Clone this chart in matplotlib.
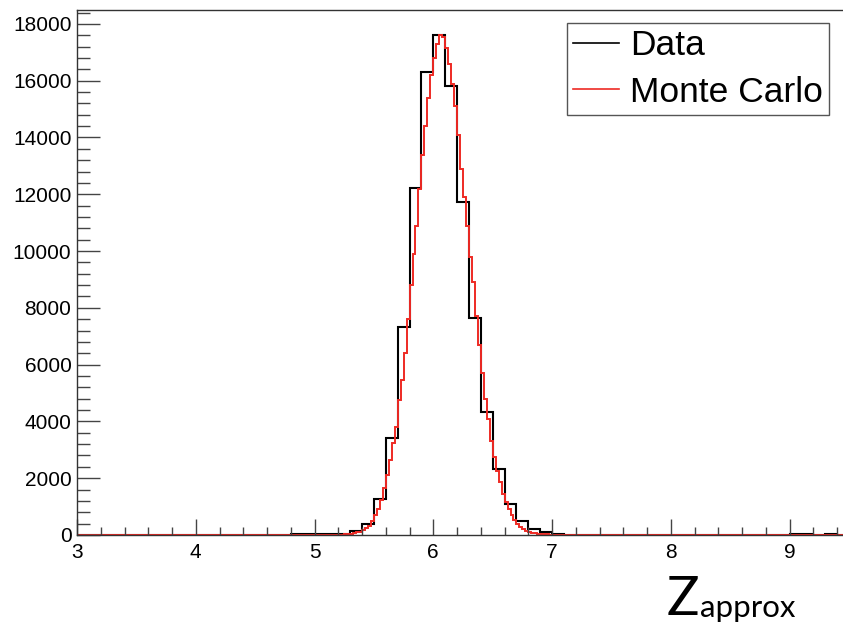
import numpy as np
import matplotlib
matplotlib.use("Agg")
import matplotlib.pyplot as plt
from matplotlib.lines import Line2D
from matplotlib.ticker import MultipleLocator

plt.rcParams['font.family'] = ['Liberation Sans', 'DejaVu Sans']

# ---------- histogram contents ----------
X_LO, X_HI = 3.0, 9.5   # right part of the frame is cut off in the original

# "Data": 0.1 wide bins, first bin starts at 4.8
data_width = 0.1
data_first_edge = 4.8
data_counts = ([20, 30, 30, 20, 40, 150, 400, 1280, 3430, 7340, 12230, 16300,
                17600, 15820, 11730, 7630, 4340, 2310, 1090, 500, 200, 110, 30]
               + [0] * 19
               + [50, 50, 0, 40])

# "Monte Carlo": 0.025 wide bins, first bin starts at 5.2
mc_width = 0.025
mc_first_edge = 5.2
mc_counts = [10, 15, 20, 30, 45, 70, 90, 120, 170, 230, 330, 480,
             700, 900, 1250, 1650, 2100, 2650, 3250, 3800, 4750, 5450, 6400, 7600,
             8800, 9900, 10900, 12200, 13400, 14400, 15400, 16200, 16800, 17300, 17600, 17550,
             17150, 16600, 15900, 15100, 14100, 12900, 11900, 10900, 9800, 8900, 7700, 6700,
             5700, 4800, 4100, 3300, 2750, 2250, 1850, 1450, 1150, 900, 700, 540,
             400, 290, 210, 150, 110, 80, 60, 45, 35, 25, 20, 15, 10]

labels = ["Data", "Monte Carlo"]
colors = ["black", "#ee2a24"]


def full_hist(first_edge, width, counts):
    # pad with empty bins so the histogram covers the whole x range (ROOT style)
    n_lo = int(round((first_edge - X_LO) / width))
    n_hi = int(round((X_HI - first_edge) / width)) - len(counts)
    vals = np.concatenate([np.zeros(n_lo), counts, np.zeros(max(n_hi, 0))])
    edges = X_LO + width * np.arange(len(vals) + 1)
    return edges, vals


W, H = 843, 626
fig = plt.figure(figsize=(W / 100, H / 100), dpi=100)
ax_left, ax_right, ax_top, ax_bottom = 77, 849, 10, 535
ax = fig.add_axes([ax_left / W, 1 - ax_bottom / H,
                   (ax_right - ax_left) / W, (ax_bottom - ax_top) / H])

e, v = full_hist(data_first_edge, data_width, data_counts)
ax.stairs(v, e, color=colors[0], lw=1.5, baseline=None)
e, v = full_hist(mc_first_edge, mc_width, mc_counts)
ax.stairs(v, e, color=colors[1], lw=1.4, baseline=None)

ax.set_xlim(X_LO, X_HI)
ax.set_ylim(0, 18490)

ax.xaxis.set_major_locator(MultipleLocator(1))
ax.xaxis.set_minor_locator(MultipleLocator(0.2))
ax.yaxis.set_major_locator(MultipleLocator(2000))
ax.yaxis.set_minor_locator(MultipleLocator(400))

ax.tick_params(axis='x', which='both', direction='in', labelsize=15, pad=6,
               color='#444444', width=1)
ax.tick_params(axis='x', which='major', length=11.5)
ax.tick_params(axis='x', which='minor', length=6)
ax.tick_params(axis='y', which='both', direction='in', labelsize=15, pad=4,
               color='#444444', width=1)
ax.tick_params(axis='y', which='major', length=16.5)
ax.tick_params(axis='y', which='minor', length=9)

for s in ax.spines.values():
    s.set_color('#333333')
    s.set_linewidth(1)

handles = [Line2D([], [], color=c, lw=1.2) for c in colors]
leg = ax.legend(handles, labels, loc='upper left',
                bbox_to_anchor=(567 / W, 1 - 23 / H), bbox_transform=fig.transFigure,
                borderaxespad=0, fontsize=25.5, handlelength=1.3, handletextpad=0.3,
                labelspacing=0.38, borderpad=0.18, fancybox=False, framealpha=1,
                edgecolor='#555555')
leg.get_frame().set_linewidth(1)

# axis title Z_approx, bottom right
fig.text(667 / W, 1 - 615 / H, "Z", fontsize=39, family='Lato',
         ha='left', va='baseline')
fig.text(700 / W, 1 - 617 / H, "approx", fontsize=22.5, family='Lato',
         ha='left', va='baseline')

fig.savefig("out.png", dpi=100)
